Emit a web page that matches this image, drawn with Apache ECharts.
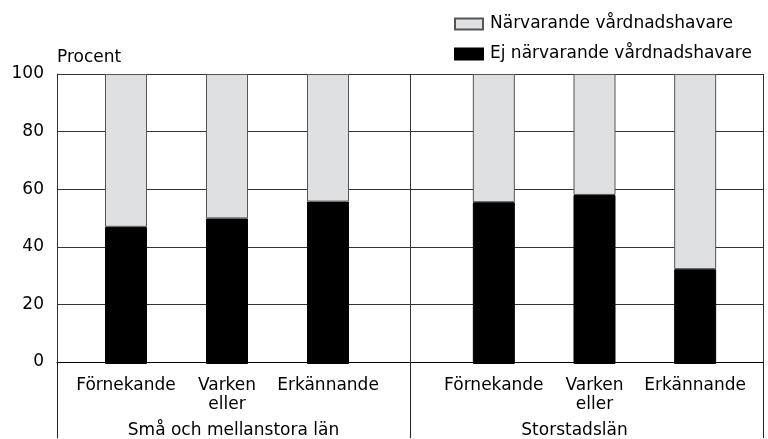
<!DOCTYPE html>
<html>
<head>
<meta charset="utf-8">
<script src="https://cdn.jsdelivr.net/npm/echarts@6/dist/echarts.min.js"></script>
<style>
  html, body { margin: 0; padding: 0; background: #fff; }
  #chart { width: 768px; height: 439px; }
</style>
</head>
<body>
<div id="chart"></div>
<script>
// data
var groups = ['Små och mellanstora län', 'Storstadslän']
var answers = ['Förnekande', 'Varken\neller', 'Erkännande']
var yTicks = [0, 20, 40, 60, 80, 100]
var ejNarvarande = [47.3, 50.2, 56.0, 55.8, 58.3, 32.7]
var narvarande = [52.7, 49.8, 44.0, 44.2, 41.7, 67.3]

var font = 'DejaVu Sans, sans-serif'
var fs = 17
var chart = echarts.init(document.getElementById('chart'))

var barAxis = function (idx) {
  return {
    type: 'category',
    gridIndex: idx,
    data: answers,
    axisLine: { show: false },
    axisTick: { show: false },
    axisLabel: { interval: 0, color: '#000', fontSize: fs, fontFamily: font, margin: 12, lineHeight: 19 }
  }
}
var hiddenY = function (idx) {
  return { type: 'value', gridIndex: idx, min: 0, max: 100, show: false }
}

var series = []
;[0, 1].forEach(function (g) {
  series.push({
    name: 'Ej närvarande vårdnadshavare',
    type: 'bar',
    stack: 's' + g,
    xAxisIndex: g + 1,
    yAxisIndex: g + 1,
    barWidth: 42,
    itemStyle: { color: '#000', borderColor: '#000', borderWidth: 1 },
    data: ejNarvarande.slice(g * 3, g * 3 + 3)
  })
  series.push({
    name: 'Närvarande vårdnadshavare',
    type: 'bar',
    stack: 's' + g,
    xAxisIndex: g + 1,
    yAxisIndex: g + 1,
    barWidth: 42,
    itemStyle: { color: '#dfe0e2', borderColor: '#555', borderWidth: 1 },
    data: narvarande.slice(g * 3, g * 3 + 3)
  })
})

var option = {
  animation: false,
  textStyle: { fontFamily: font },
  legend: {
    orient: 'vertical',
    left: 449,
    top: 10,
    itemWidth: 28,
    itemHeight: 11,
    itemGap: 12,
    icon: 'rect',
    data: ['Närvarande vårdnadshavare', 'Ej närvarande vårdnadshavare'],
    textStyle: { color: '#000', fontSize: fs, fontFamily: font, lineHeight: 18, padding: [0, 0, 0, 2] }
  },
  grid: [
    { left: 57, top: 74, width: 706, height: 290 },
    { left: 75.5, top: 74, width: 303, height: 290 },
    { left: 443.5, top: 74, width: 302, height: 290 }
  ],
  xAxis: [
    {
      type: 'category',
      gridIndex: 0,
      data: [groups[0], { value: groups[1], textStyle: { padding: [0, 24, 0, 0] } }],
      axisLine: { show: true, lineStyle: { color: '#000', width: 1 } },
      axisTick: { show: true, length: 76, lineStyle: { color: '#222' } },
      splitLine: { show: true, lineStyle: { color: '#333', width: 1 } },
      axisLabel: { interval: 0, color: '#000', fontSize: fs, fontFamily: font, margin: 60 }
    },
    barAxis(1),
    barAxis(2)
  ],
  yAxis: [
    {
      type: 'value',
      gridIndex: 0,
      min: yTicks[0],
      max: yTicks[yTicks.length - 1],
      interval: 20,
      name: 'Procent',
      nameLocation: 'end',
      nameGap: 8,
      nameTextStyle: { color: '#000', fontSize: fs, fontFamily: font, align: 'left' },
      axisLine: { show: true, lineStyle: { color: '#333' } },
      axisTick: { show: false },
      axisLabel: { color: '#000', fontSize: fs, fontFamily: font, margin: 13 },
      splitLine: { show: true, lineStyle: { color: '#333', width: 1 } }
    },
    hiddenY(1),
    hiddenY(2)
  ],
  series: series
}

chart.setOption(option)
</script>
</body>
</html>
